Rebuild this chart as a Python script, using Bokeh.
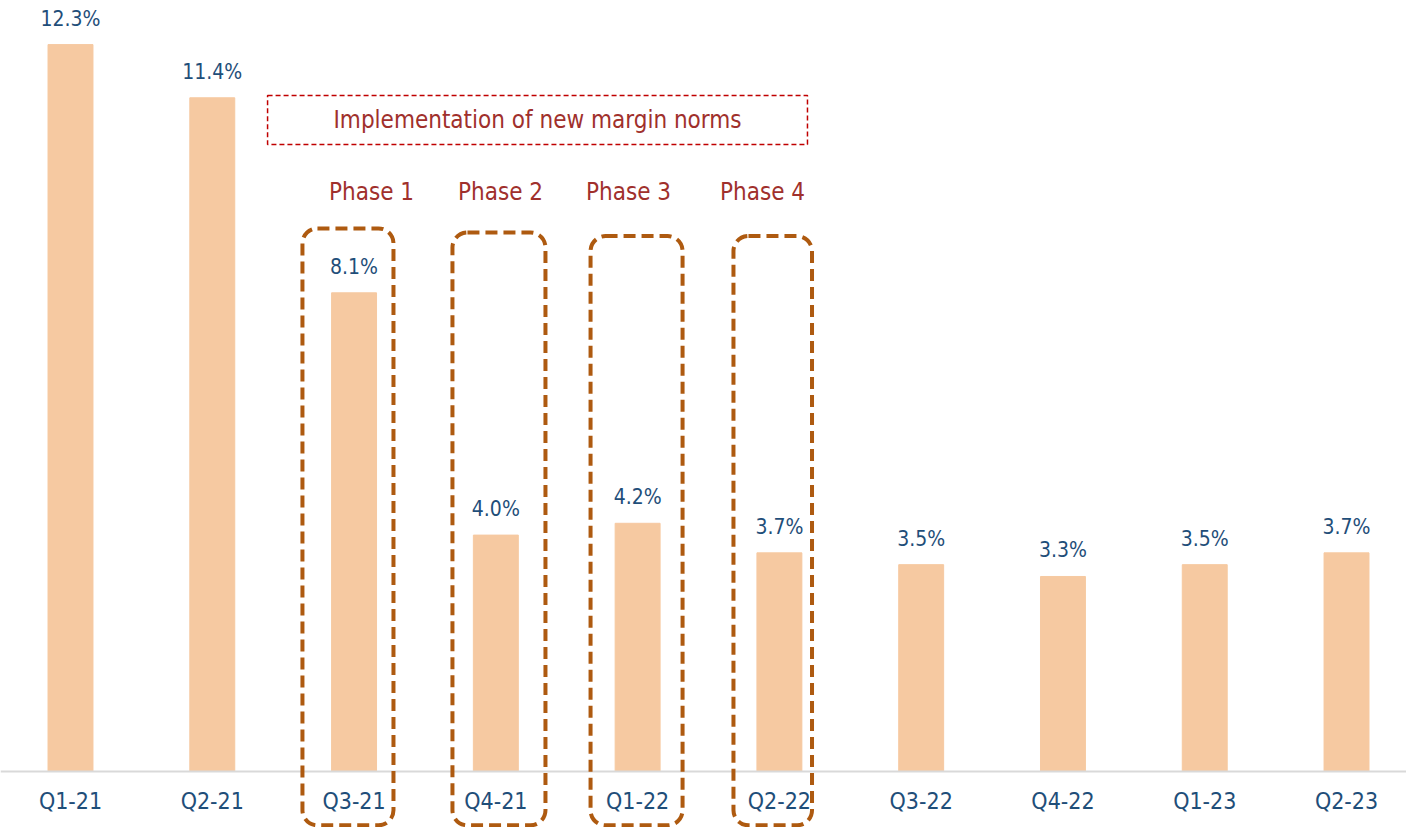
from bokeh.plotting import figure
from bokeh.models import ColumnDataSource, FixedTicker, BoxAnnotation, Range1d
from bokeh.core.properties import value
from bokeh.embed import file_html
from bokeh.resources import INLINE

# ---- data ----
quarters = ["Q1-21", "Q2-21", "Q3-21", "Q4-21", "Q1-22", "Q2-22",
            "Q3-22", "Q4-22", "Q1-23", "Q2-23"]
margin_pct = [12.3, 11.4, 8.1, 4.0, 4.2, 3.7, 3.5, 3.3, 3.5, 3.7]
phase_names = ["Phase 1", "Phase 2", "Phase 3", "Phase 4"]
phase_quarters = ["Q3-21", "Q4-21", "Q1-22", "Q2-22"]
banner_text = "Implementation of new margin norms"

FONT = "DejaVu Sans Condensed"
BAR = "#F6C9A1"
BLUE = "#1F4E79"
RED_TXT = "#A0302C"
BROWN = "#AE5A10"

xs = list(range(len(quarters)))
src = ColumnDataSource(dict(
    x=xs, top=margin_pct,
    label=[f"{v:.1f}%" for v in margin_pct],
))

p = figure(width=1406, height=827, output_backend="svg", toolbar_location=None,
           x_range=Range1d(-0.4937, 9.423), y_range=Range1d(-0.9475, 13.046),
           min_border=0)
p.outline_line_color = None
p.grid.visible = False
p.yaxis.visible = False
p.background_fill_color = "white"
p.border_fill_color = "white"

p.vbar(x="x", top="top", bottom=0, width=0.317, source=src,
       fill_color=BAR, line_color=BAR)

p.text(x="x", y="top", text="label", source=src, text_align="center",
       text_baseline="middle", y_offset=-26, text_color=BLUE,
       text_font=value(FONT), text_font_size="21px")

ax = p.xaxis[0]
ax.fixed_location = 0
ax.ticker = FixedTicker(ticks=xs)
ax.major_label_overrides = {i: q for i, q in enumerate(quarters)}
ax.major_tick_line_color = None
ax.major_tick_out = 0
ax.major_tick_in = 0
ax.minor_tick_line_color = None
ax.axis_line_color = "#D9D9D9"
ax.axis_line_width = 2
ax.major_label_standoff = 16
ax.major_label_text_color = BLUE
ax.major_label_text_font = FONT
ax.major_label_text_font_size = "23px"

# phase boxes (rounded, dashed) around the phase quarters
box_left_off = [-0.364, -0.306, -0.332, -0.324]
box_right_off = [0.278, 0.350, 0.317, 0.230]
box_top = [9.19, 9.12, 9.06, 9.06]
box_bottom = -0.91
phase_label_off = [0.123, 0.033, -0.064, -0.119]
phase_idx = [quarters.index(q) for q in phase_quarters]
for i, lo, ro, t in zip(phase_idx, box_left_off, box_right_off, box_top):
    p.add_layout(BoxAnnotation(left=i + lo, right=i + ro, top=t, bottom=box_bottom,
                               fill_alpha=0, line_alpha=1, line_color=BROWN,
                               line_width=4, line_dash="12 6", border_radius=15,
                               level="overlay"))

phase_src = ColumnDataSource(dict(
    x=[i + o for i, o in zip(phase_idx, phase_label_off)],
    y=[9.81] * 4, text=phase_names))
p.text(x="x", y="y", text="text", source=phase_src, text_align="center",
       text_baseline="middle", text_color=RED_TXT, text_font=value(FONT),
       text_font_size="24px")

# banner
p.add_layout(BoxAnnotation(left=1.39, right=5.198, top=11.44, bottom=10.61,
                           fill_alpha=0, line_alpha=1, line_color="#C00000",
                           line_width=1.5, line_dash="5 3"))
p.text(x=[3.294], y=[11.02], text=[banner_text], text_align="center",
       text_baseline="middle", text_color=RED_TXT, text_font=value(FONT),
       text_font_size="24px")

open("out.html", "w").write(file_html(p, INLINE))
